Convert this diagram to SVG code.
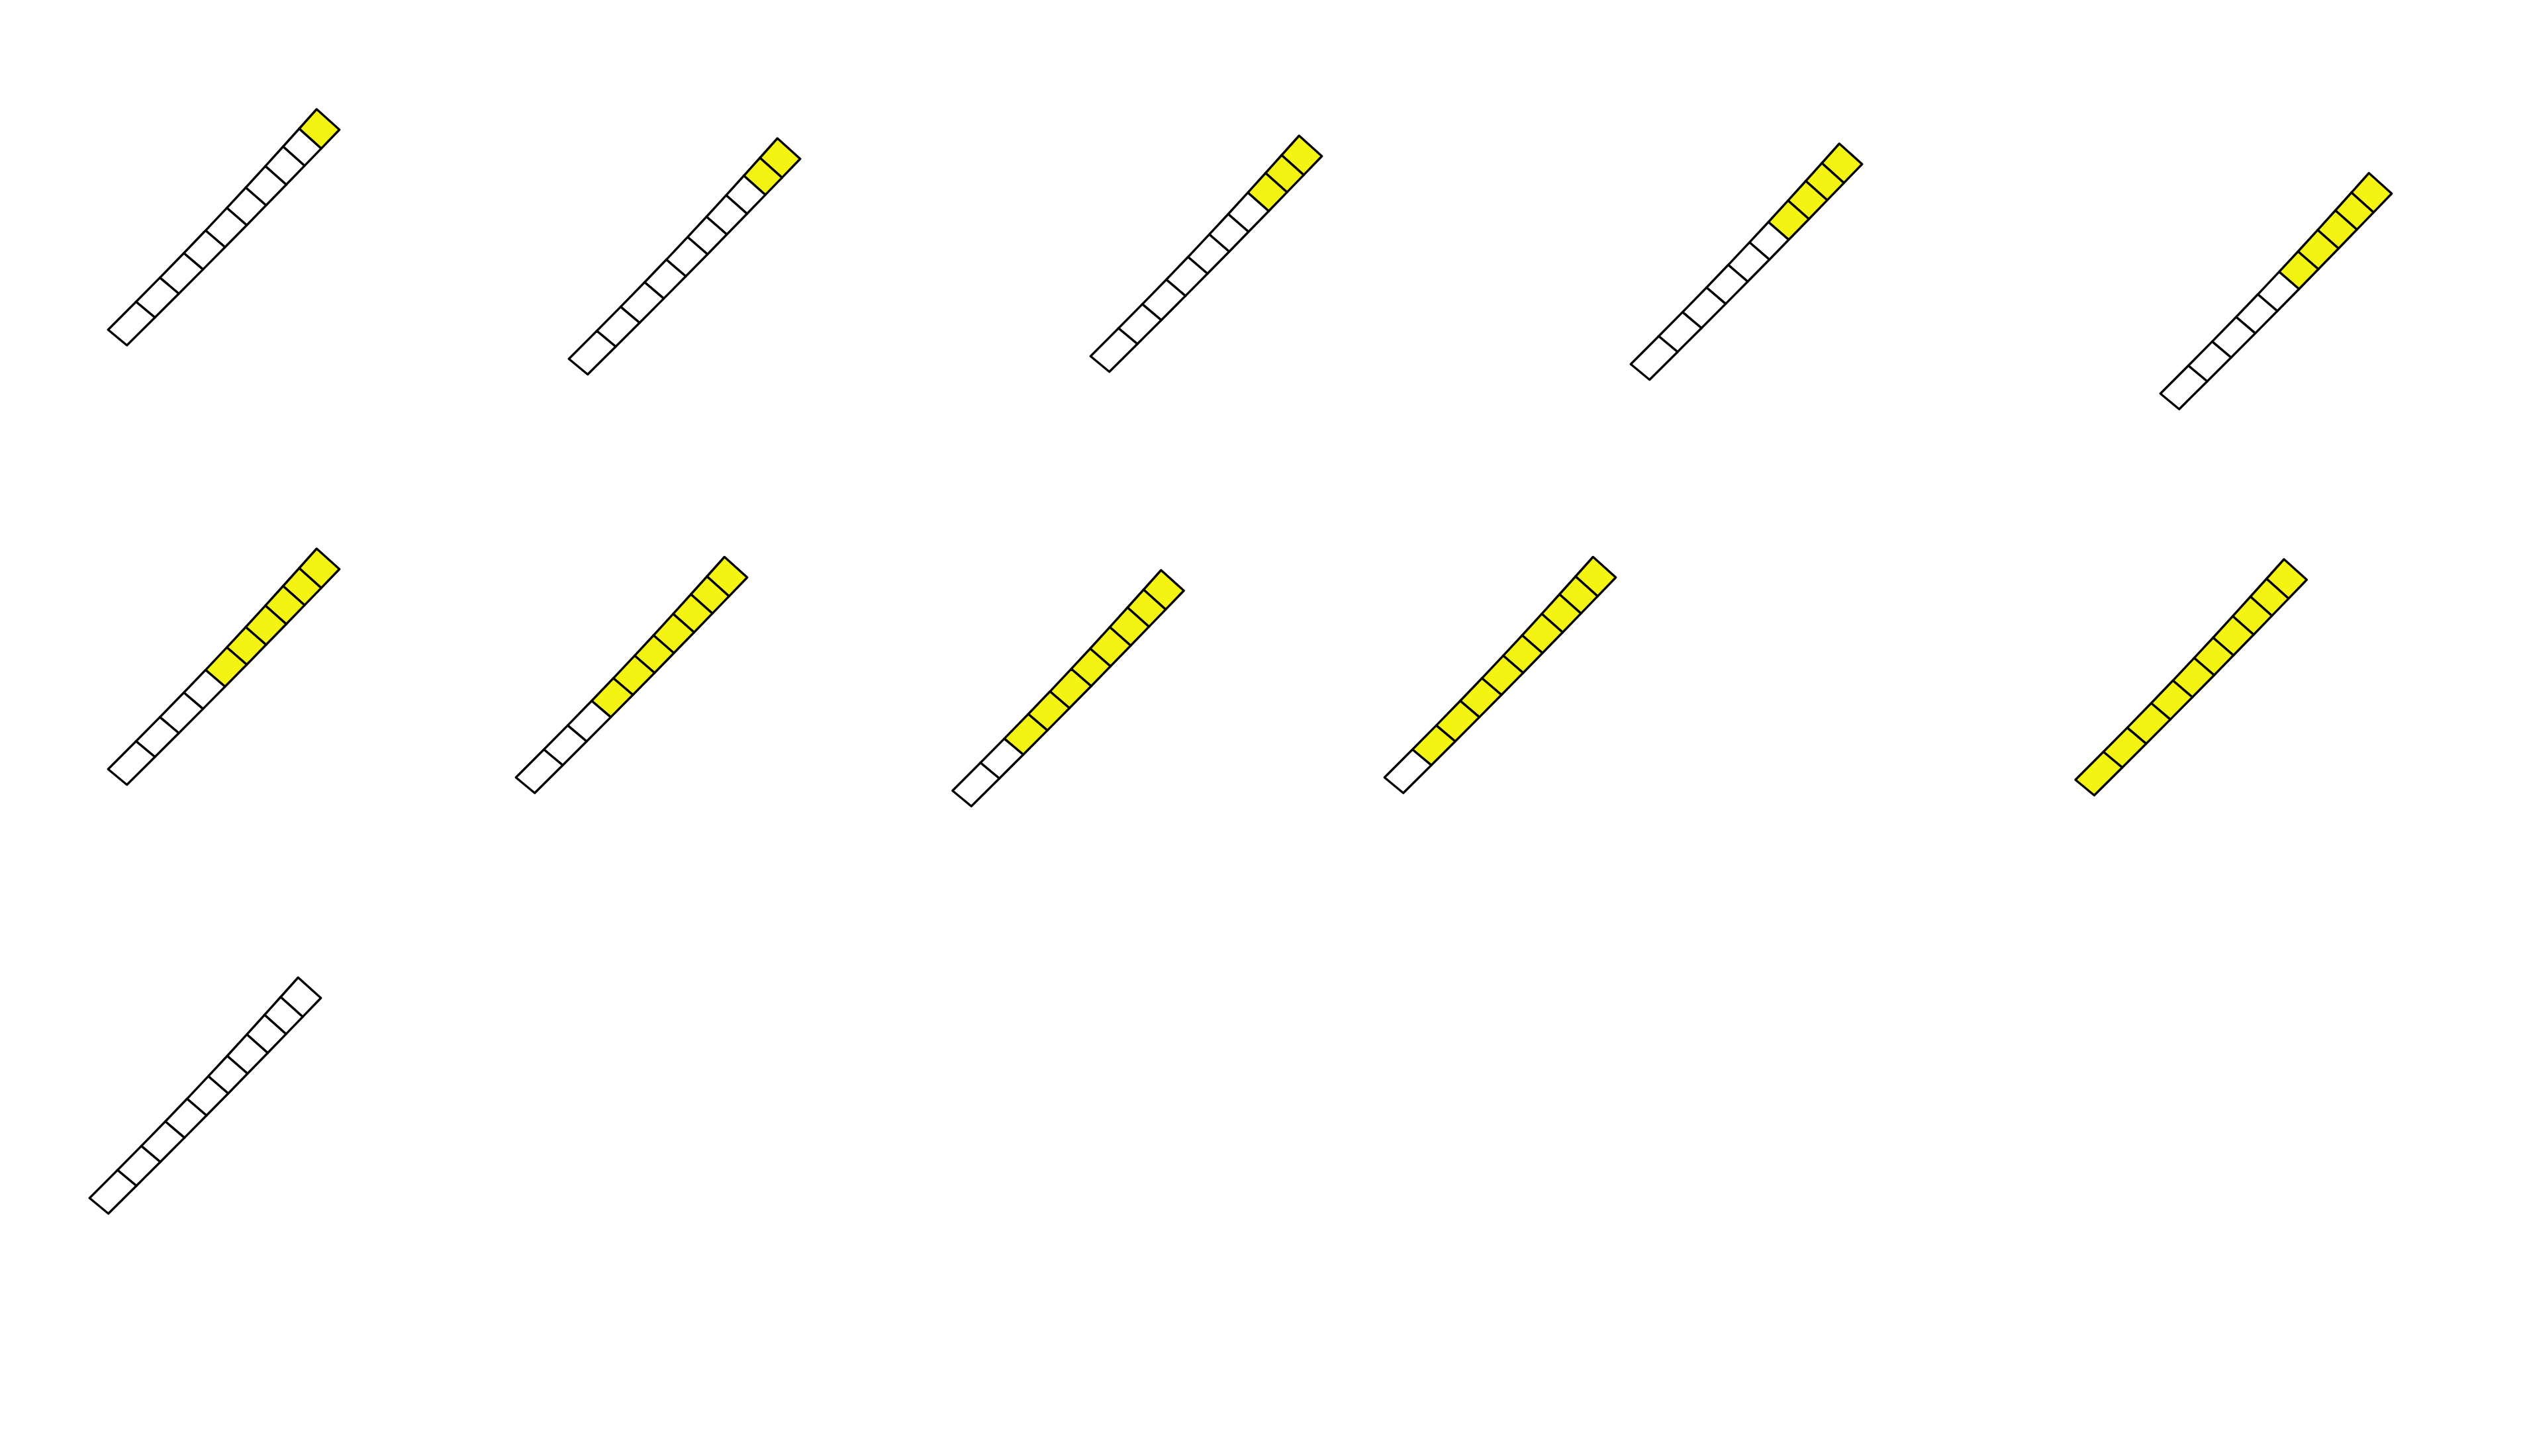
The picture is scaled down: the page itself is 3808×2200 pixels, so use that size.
<svg xmlns="http://www.w3.org/2000/svg" xmlns:xlink="http://www.w3.org/1999/xlink" width="3808" height="2200" viewBox="0 0 3808 2200">
<style>
.cell{stroke:#000;stroke-width:3.4;stroke-linejoin:round}
.y{fill:#f4f412}
.w{fill:#fff}
</style>
<defs>
<polygon id="c0" class="cell" points="478.3,165 451.9,194.5 485.3,224.4 512.7,196"/>
<polygon id="c1" class="cell" points="451.9,194.5 427.6,221.5 460.1,250.4 485.3,224.4"/>
<polygon id="c2" class="cell" points="427.6,221.5 400.8,251.1 432.4,279 460.1,250.4"/>
<polygon id="c3" class="cell" points="400.8,251.1 371.2,283.5 401.9,310.3 432.4,279"/>
<polygon id="c4" class="cell" points="371.2,283.5 342.7,314.2 372.7,340.2 401.9,310.3"/>
<polygon id="c5" class="cell" points="342.7,314.2 310.5,348.3 339.9,373.5 372.7,340.2"/>
<polygon id="c6" class="cell" points="310.5,348.3 277.7,382.5 306.6,407.1 339.9,373.5"/>
<polygon id="c7" class="cell" points="277.7,382.5 241.5,419.6 270.1,443.7 306.6,407.1"/>
<polygon id="c8" class="cell" points="241.5,419.6 205.5,456 234,479.7 270.1,443.7"/>
<polygon id="c9" class="cell" points="205.5,456 163.3,498.3 191.7,521.7 234,479.7"/>
</defs>
<rect width="3808" height="2200" fill="#fff"/>
<g id="strip1" transform="translate(0,0)">
<use href="#c0" class="y"/><use href="#c1" class="w"/><use href="#c2" class="w"/><use href="#c3" class="w"/><use href="#c4" class="w"/><use href="#c5" class="w"/><use href="#c6" class="w"/><use href="#c7" class="w"/><use href="#c8" class="w"/><use href="#c9" class="w"/>
</g>
<g id="strip2" transform="translate(696,44)">
<use href="#c0" class="y"/><use href="#c1" class="y"/><use href="#c2" class="w"/><use href="#c3" class="w"/><use href="#c4" class="w"/><use href="#c5" class="w"/><use href="#c6" class="w"/><use href="#c7" class="w"/><use href="#c8" class="w"/><use href="#c9" class="w"/>
</g>
<g id="strip3" transform="translate(1484,40)">
<use href="#c0" class="y"/><use href="#c1" class="y"/><use href="#c2" class="y"/><use href="#c3" class="w"/><use href="#c4" class="w"/><use href="#c5" class="w"/><use href="#c6" class="w"/><use href="#c7" class="w"/><use href="#c8" class="w"/><use href="#c9" class="w"/>
</g>
<g id="strip4" transform="translate(2300,52)">
<use href="#c0" class="y"/><use href="#c1" class="y"/><use href="#c2" class="y"/><use href="#c3" class="y"/><use href="#c4" class="w"/><use href="#c5" class="w"/><use href="#c6" class="w"/><use href="#c7" class="w"/><use href="#c8" class="w"/><use href="#c9" class="w"/>
</g>
<g id="strip5" transform="translate(3100,96.5)">
<use href="#c0" class="y"/><use href="#c1" class="y"/><use href="#c2" class="y"/><use href="#c3" class="y"/><use href="#c4" class="y"/><use href="#c5" class="w"/><use href="#c6" class="w"/><use href="#c7" class="w"/><use href="#c8" class="w"/><use href="#c9" class="w"/>
</g>
<g id="strip6" transform="translate(0,664)">
<use href="#c0" class="y"/><use href="#c1" class="y"/><use href="#c2" class="y"/><use href="#c3" class="y"/><use href="#c4" class="y"/><use href="#c5" class="y"/><use href="#c6" class="w"/><use href="#c7" class="w"/><use href="#c8" class="w"/><use href="#c9" class="w"/>
</g>
<g id="strip7" transform="translate(616,676.5)">
<use href="#c0" class="y"/><use href="#c1" class="y"/><use href="#c2" class="y"/><use href="#c3" class="y"/><use href="#c4" class="y"/><use href="#c5" class="y"/><use href="#c6" class="y"/><use href="#c7" class="w"/><use href="#c8" class="w"/><use href="#c9" class="w"/>
</g>
<g id="strip8" transform="translate(1275.5,696.5)">
<use href="#c0" class="y"/><use href="#c1" class="y"/><use href="#c2" class="y"/><use href="#c3" class="y"/><use href="#c4" class="y"/><use href="#c5" class="y"/><use href="#c6" class="y"/><use href="#c7" class="y"/><use href="#c8" class="w"/><use href="#c9" class="w"/>
</g>
<g id="strip9" transform="translate(1928,676.5)">
<use href="#c0" class="y"/><use href="#c1" class="y"/><use href="#c2" class="y"/><use href="#c3" class="y"/><use href="#c4" class="y"/><use href="#c5" class="y"/><use href="#c6" class="y"/><use href="#c7" class="y"/><use href="#c8" class="y"/><use href="#c9" class="w"/>
</g>
<g id="strip10" transform="translate(2971.7,680)">
<use href="#c0" class="y"/><use href="#c1" class="y"/><use href="#c2" class="y"/><use href="#c3" class="y"/><use href="#c4" class="y"/><use href="#c5" class="y"/><use href="#c6" class="y"/><use href="#c7" class="y"/><use href="#c8" class="y"/><use href="#c9" class="y"/>
</g>
<g id="strip11" transform="translate(-28,1312)">
<use href="#c0" class="w"/><use href="#c1" class="w"/><use href="#c2" class="w"/><use href="#c3" class="w"/><use href="#c4" class="w"/><use href="#c5" class="w"/><use href="#c6" class="w"/><use href="#c7" class="w"/><use href="#c8" class="w"/><use href="#c9" class="w"/>
</g>
<g id="connectors"></g>
</svg>
